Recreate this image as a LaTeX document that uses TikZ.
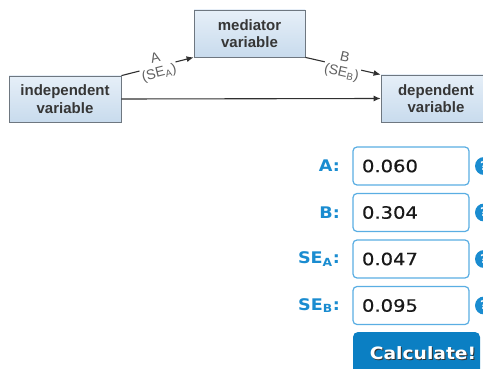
\documentclass[tikz,border=0pt]{standalone}
\usepackage{fontspec}
\setmainfont{Liberation Sans}
\newfontfamily\formfont[FakeStretch=1.1]{DejaVu Sans}
\newfontfamily\valfont[FakeStretch=1.15,FakeBold=0.4]{DejaVu Sans}
\usetikzlibrary{arrows.meta}

\definecolor{boxtop}{HTML}{E6EFF8}
\definecolor{boxbot}{HTML}{C8DBED}
\definecolor{boxedge}{HTML}{6E7780}
\definecolor{vartext}{HTML}{363636}
\definecolor{linecol}{HTML}{303030}
\definecolor{labcol}{HTML}{606060}
\definecolor{formblue}{HTML}{1A8CD0}
\definecolor{fieldedge}{HTML}{5AAEE3}
\definecolor{buttonblue}{HTML}{0B7FC3}

\begin{document}
\begin{tikzpicture}[x=1pt,y=-1pt,
    varbox/.style={draw=boxedge, line width=0.8pt, top color=boxtop, bottom color=boxbot,
        minimum width=112pt, minimum height=46pt, inner sep=0pt, align=center,
        text=vartext, font=\bfseries\fontsize{15}{17.5}\selectfont},
    edge/.style={draw=linecol, line width=1.1pt, -{Latex[length=7pt,width=6pt]}},
    elabel/.style={fill=white, inner sep=1pt, align=center, sloped,
        text=labcol, font=\fontsize{14}{15}\selectfont},
    fieldlab/.style={anchor=east, inner sep=0pt, text=formblue,
        font=\formfont\bfseries\fontsize{16}{18}\selectfont},
    fieldbox/.style={draw=fieldedge, line width=1.2pt, rounded corners=4pt, fill=white,
        minimum height=38pt, text width=98pt, inner xsep=9pt, align=left,
        text=black!90, font=\valfont\fontsize{17}{19}\selectfont},
    helpicon/.style={circle, fill=formblue, minimum size=18pt, inner sep=0pt,
        text=white, font=\formfont\bfseries\fontsize{12}{14}\selectfont},
    button/.style={fill=buttonblue, rounded corners=5pt, minimum width=127pt,
        minimum height=50pt, inner sep=0pt},
    calctext/.style={inner sep=0pt, font=\formfont\bfseries\fontsize{17}{19}\selectfont}
]
    \useasboundingbox (0,0) rectangle (483,369);
    \clip (0,0) rectangle (483,369);

    % mediation model
    \node[varbox] (ind) at (65,99) {independent\\variable};
    \node[varbox, minimum width=111pt, minimum height=47pt] (med) at (249.5,33.5) {mediator\\variable};
    \node[varbox, minimum width=110pt, minimum height=47pt] (dep) at (436,98.5) {dependent\\variable};

    \draw[edge] (ind.north east) -- node[elabel] (pathA) {A\\(SE\textsubscript{A})} (med.south west);
    \draw[edge] (med.south east) -- node[elabel] (pathB) {B\\(SE\textsubscript{B})} (dep.north west);
    \draw[edge] (ind.east) -- (dep.west);

    % input fields
    \foreach \i/\lab/\val in {
        1/A/0.060,
        2/B/0.304,
        3/SE\textsubscript{A}/0.047,
        4/SE\textsubscript{B}/0.095
    } {
        \pgfmathsetmacro\yy{166+46.5*(\i-1)}
        \node[fieldlab] (lab\i) at (340,\yy) {\lab:};
        \node[fieldbox] (field\i) at (411,\yy) {\val};
        \node[helpicon] (help\i) at (484,\yy) {?};
    }

    % button
    \node[button] (calc) at (416.5,357) {};
    \node[calctext, text=black!80] (calcshadow) at (424,354) {Calculate!};
    \node[calctext, text=white] (calclab) at (423,353) {Calculate!};
\end{tikzpicture}
\end{document}
